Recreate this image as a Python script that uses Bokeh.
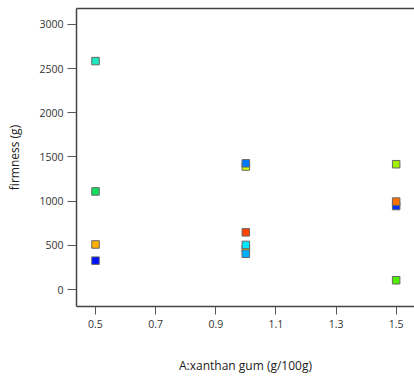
from bokeh.plotting import figure
from bokeh.models import LinearAxis, FixedTicker, ColumnDataSource, Range1d
from bokeh.embed import file_html
from bokeh.resources import INLINE

# data (draw order matters for overlapping markers)
xanthan = [0.5, 0.5, 0.5, 0.5, 1.0, 1.0, 1.0, 1.0, 1.0, 1.0, 1.5, 1.5, 1.5, 1.5]
firmness = [2585, 1110, 510, 327, 1392, 1428, 647, 458, 505, 405, 1418, 945, 995, 105]
colors = ["#1ee8c0", "#10e060", "#ffb000", "#0010ff", "#d8ff00", "#0078ff",
          "#ff4400", "#f0e000", "#00e8ff", "#00b0ff", "#a0f000", "#0030ff",
          "#ff7000", "#50f000"]
x_ticks = [0.5, 0.7, 0.9, 1.1, 1.3, 1.5]
y_ticks = [0, 500, 1000, 1500, 2000, 2500, 3000]

src = ColumnDataSource(dict(x=xanthan, y=firmness, c=colors))

p = figure(width=414, height=376, output_backend="svg", toolbar_location=None,
           x_range=Range1d(0.4368, 1.561), y_range=Range1d(-192, 3180),
           min_border_left=76, min_border_top=8, min_border_bottom=69,
           min_border_right=0)
p.outline_line_color = None
p.grid.visible = False
p.background_fill_color = "white"

p.scatter("x", "y", source=src, marker="square", size=7.5, fill_color="c",
          line_color="#666666", line_width=1)

font = "Open Sans"
for ax in (p.xaxis[0], p.yaxis[0]):
    ax.axis_line_color = "#444444"
    ax.axis_line_width = 1.5
    ax.major_tick_line_color = "#555555"
    ax.major_tick_line_width = 1
    ax.minor_tick_line_color = None
    ax.major_tick_in = 0
    ax.major_label_text_font = font
    ax.major_label_text_font_size = "10.5px"
    ax.major_label_text_color = "#333333"
    ax.axis_label_text_font = font
    ax.axis_label_text_font_size = "12px"
    ax.axis_label_text_font_style = "normal"
    ax.axis_label_text_color = "#222222"

p.xaxis.ticker = FixedTicker(ticks=x_ticks)
p.xaxis.major_label_overrides = {t: f"{t:.1f}" for t in x_ticks}
p.xaxis.major_tick_out = 8
p.xaxis.major_label_standoff = 5
p.xaxis.axis_label = "A:xanthan gum (g/100g)"
p.xaxis.axis_label_standoff = 26

p.yaxis.ticker = FixedTicker(ticks=y_ticks)
p.yaxis.major_tick_out = 9
p.yaxis.major_label_standoff = 4
p.yaxis.axis_label = "firmness (g)"
p.yaxis.axis_label_standoff = 13

top = LinearAxis(ticker=FixedTicker(ticks=[]), major_label_text_font_size="0px",
                 axis_line_color="#444444", axis_line_width=1.5,
                 major_tick_line_color=None, minor_tick_line_color=None)
p.add_layout(top, "above")

open("out.html", "w").write(file_html(p, INLINE))
